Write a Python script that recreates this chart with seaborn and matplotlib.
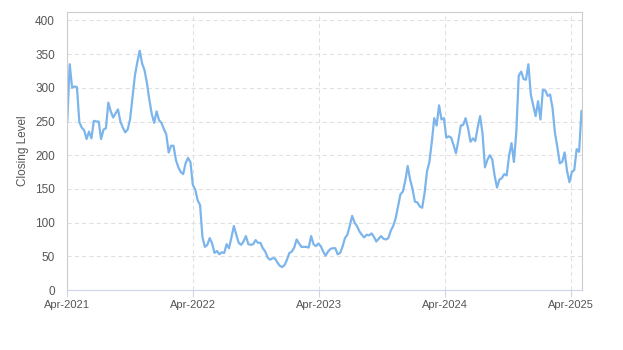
import matplotlib
matplotlib.use("Agg")
import matplotlib.pyplot as plt
import matplotlib.dates as mdates
import seaborn as sns
import pandas as pd

# Weekly closing levels, starting 2021-04-01
start_date = "2021-04-01"
closing_2021 = [250, 335, 300, 302, 301, 249, 241, 237, 224, 235, 225, 251, 250, 250,
                224, 238, 240, 278, 265, 256, 262, 268, 250, 241, 234, 238, 253, 285,
                318, 338, 355, 336, 326, 307, 282, 261, 248, 265, 252, 248, 239, 231,
                204, 214, 214, 193, 182, 175, 172, 188, 196, 190]
closing_2022 = [156, 149, 133, 126, 78, 64, 67, 77, 69, 55, 58, 53, 56, 55, 68, 62, 78,
                95, 82, 70, 67, 72, 80, 68, 67, 68, 74, 70, 70, 62, 57, 48, 45, 47, 47,
                41, 36, 34, 37, 45, 55, 57, 63, 75, 69, 64, 64, 64, 63, 80, 68, 65, 69]
closing_2023 = [65, 57, 51, 57, 61, 62, 62, 53, 55, 64, 77, 82, 95, 110, 100, 95, 87,
                82, 78, 82, 81, 84, 79, 72, 76, 80, 76, 75, 77, 88, 95, 106, 124, 142,
                146, 162, 184, 164, 150, 131, 130, 124, 122, 144, 176, 190, 220, 255,
                244, 274, 253]
closing_2024 = [255, 226, 228, 226, 215, 203, 222, 244, 245, 255, 240, 220, 225, 221,
                241, 258, 232, 182, 193, 200, 194, 170, 152, 164, 166, 172, 170, 199,
                218, 190, 235, 318, 324, 313, 312, 335, 290, 274, 258, 280, 253, 297,
                296, 288, 290, 270, 233, 212, 188, 190, 204, 177, 160, 175, 178, 209,
                205, 266]

values = closing_2021 + closing_2022 + closing_2023 + closing_2024
df = pd.DataFrame({
    "Date": pd.date_range(start_date, periods=len(values), freq="7D"),
    "Closing Level": values,
})

tick_dates = pd.to_datetime(["2021-04-01", "2022-04-01", "2023-04-01",
                             "2024-04-01", "2025-04-01"])
y_ticks = list(range(0, 401, 50))

sns.set_theme(style="white")
plt.rcParams["font.family"] = ["Liberation Sans", "DejaVu Sans"]

fig = plt.figure(figsize=(6.23, 3.5), dpi=100)
ax = fig.add_axes([0.108, 0.1714, 0.8254, 0.7934])

sns.lineplot(data=df, x="Date", y="Closing Level", ax=ax,
             color="#7cb5ec", linewidth=1.6)

ax.set_xlim(df["Date"].iloc[0], df["Date"].iloc[-1])
ax.set_ylim(0, 412)
ax.set_yticks(y_ticks)
ax.set_xticks(tick_dates)
ax.xaxis.set_major_formatter(mdates.DateFormatter("%b-%Y"))

ax.grid(True, axis="both", color="#e0e0e0", linestyle=(0, (4, 3)), linewidth=0.75)
ax.set_axisbelow(True)

for side in ["top", "right", "left"]:
    ax.spines[side].set_color("#cccccc")
    ax.spines[side].set_linewidth(0.8)
ax.spines["bottom"].set_color("#ccd6eb")
ax.spines["bottom"].set_linewidth(0.8)

ax.tick_params(axis="x", length=5, width=0.8, color="#ccd6eb", pad=2,
               labelsize=8, labelcolor="#555555", bottom=True)
ax.tick_params(axis="y", length=0, pad=9, labelsize=8.5, labelcolor="#555555")

ax.set_xlabel("")
ax.set_ylabel("Closing Level", fontsize=8.5, color="#555555", labelpad=4)

fig.savefig("out.png", dpi=100)
